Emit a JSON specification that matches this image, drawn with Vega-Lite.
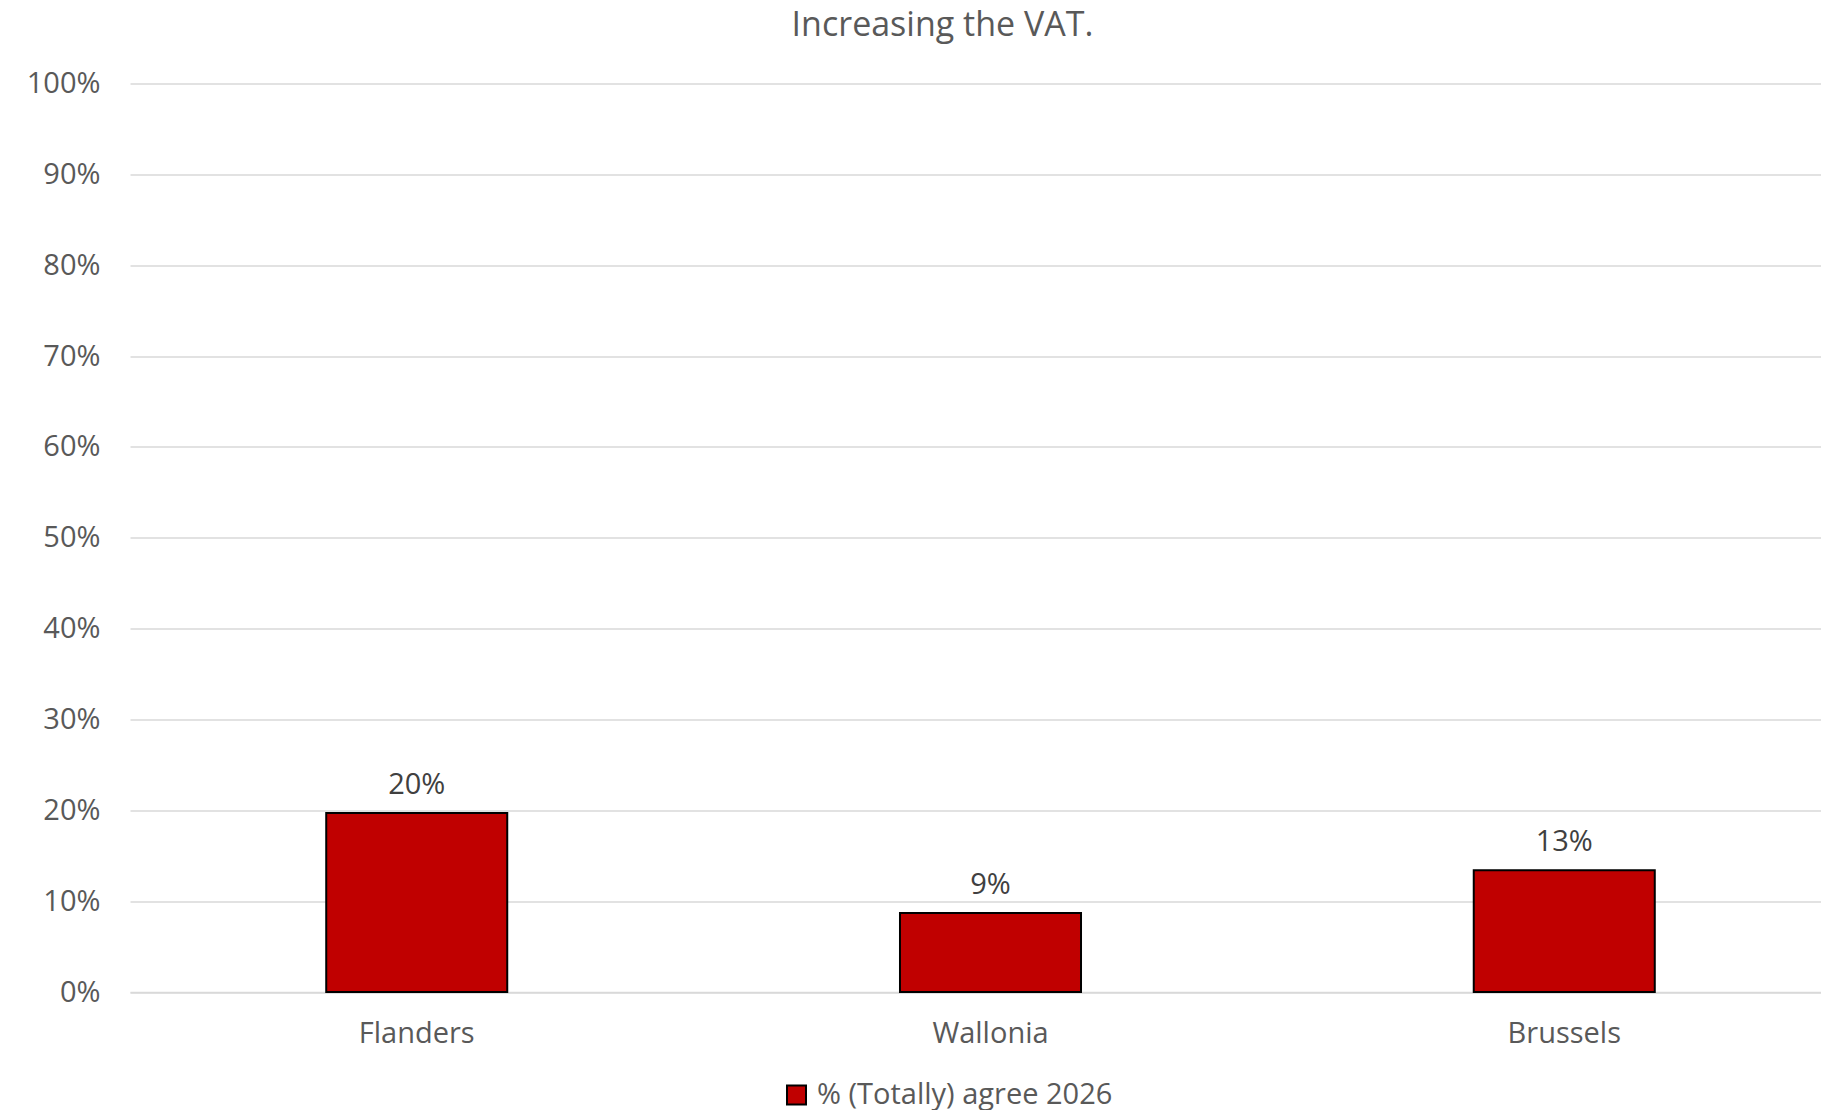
{
  "$schema": "https://vega.github.io/schema/vega-lite/v6.json",
  "autosize": {"type": "none"},
  "width": 1721,
  "height": 908.5,
  "padding": {"left": 130, "top": 83.5, "right": 0, "bottom": 118.5},
  "background": "white",
  "config": {"view": {"stroke": null}},
  "title": {
    "text": "Increasing the VAT.",
    "anchor": "middle",
    "frame": "group",
    "dx": -48,
    "offset": 27,
    "font": "Open Sans",
    "fontSize": 34,
    "fontWeight": "normal",
    "color": "#595959"
  },
  "data": {
    "values": [
      {"region": "Flanders", "series": "% (Totally) agree 2026", "value": 0.197},
      {"region": "Wallonia", "series": "% (Totally) agree 2026", "value": 0.087},
      {"region": "Brussels", "series": "% (Totally) agree 2026", "value": 0.134}
    ]
  },
  "encoding": {
    "x": {
      "field": "region",
      "type": "nominal",
      "sort": ["Flanders", "Wallonia", "Brussels"],
      "scale": {"paddingInner": 0.6845, "paddingOuter": 0.342},
      "axis": {
        "title": null,
        "labelAngle": 0,
        "ticks": false,
        "domain": true,
        "domainColor": "#d9d9d9",
        "domainWidth": 1.5,
        "labelPadding": 27,
        "labelFont": "Open Sans",
        "labelFontSize": 29,
        "labelColor": "#595959",
        "grid": false
      }
    },
    "y": {
      "field": "value",
      "type": "quantitative",
      "scale": {"domain": [0, 1], "nice": false},
      "axis": {
        "title": null,
        "format": ".0%",
        "values": [0, 0.1, 0.2, 0.3, 0.4, 0.5, 0.6, 0.7, 0.8, 0.9, 1],
        "ticks": false,
        "domain": false,
        "grid": true,
        "gridColor": "#d9d9d9",
        "gridWidth": 1.5,
        "labelPadding": 30,
        "labelFont": "Open Sans",
        "labelFontSize": 29,
        "labelColor": "#595959"
      }
    }
  },
  "layer": [
    {
      "mark": {"type": "bar", "stroke": "black", "strokeWidth": 2},
      "encoding": {
        "color": {
          "field": "series",
          "type": "nominal",
          "scale": {"range": ["#C00000"]},
          "legend": {
            "title": null,
            "orient": "none",
            "legendX": 652,
            "legendY": 997,
            "symbolType": "square",
            "symbolSize": 361,
            "symbolStrokeColor": "black",
            "symbolStrokeWidth": 2,
            "symbolOpacity": 1,
            "labelFont": "Open Sans",
            "labelFontSize": 29,
            "labelColor": "#595959",
            "labelOffset": 6,
            "labelLimit": 600
          }
        }
      }
    },
    {
      "mark": {
        "type": "text",
        "baseline": "bottom",
        "dy": -13,
        "font": "Open Sans",
        "fontSize": 29,
        "color": "#404040"
      },
      "encoding": {
        "text": {"field": "value", "type": "quantitative", "format": ".0%"}
      }
    }
  ]
}
